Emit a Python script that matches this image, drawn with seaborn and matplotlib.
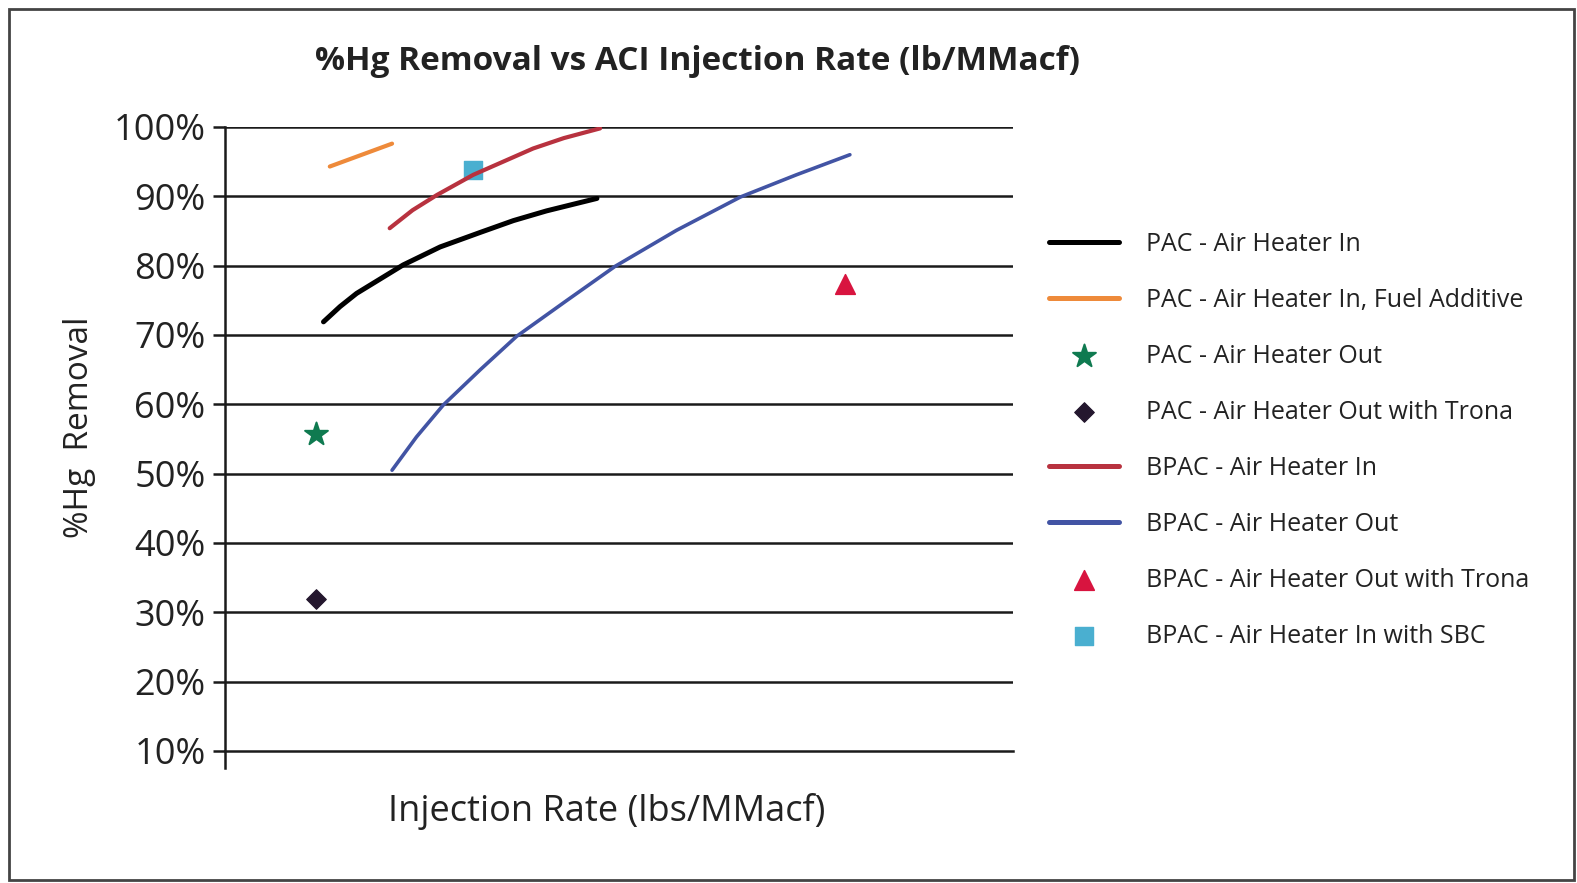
import matplotlib
matplotlib.use('Agg')
import matplotlib.pyplot as plt
import seaborn as sns
from matplotlib.patches import Rectangle
from matplotlib.ticker import FuncFormatter

# injection rate has no scale in the source, so x is in relative units (0-10)
pac_in_x = [1.25, 1.46, 1.67, 2.26, 2.73, 3.24, 3.66, 4.08, 4.72]
pac_in_y = [71.9, 74.1, 76.0, 80.1, 82.7, 84.8, 86.5, 87.9, 89.7]

pac_fuel_x = [1.33, 2.12]
pac_fuel_y = [94.3, 97.6]

bpac_in_x = [2.09, 2.38, 2.69, 3.15, 3.45, 3.91, 4.30, 4.76]
bpac_in_y = [85.4, 88.0, 90.2, 93.1, 94.6, 96.9, 98.4, 99.8]

bpac_out_x = [2.12, 2.43, 2.77, 3.24, 3.70, 4.34, 4.95, 5.73, 6.54, 7.25, 7.93]
bpac_out_y = [50.5, 55.3, 59.9, 65.0, 69.8, 75.0, 79.9, 85.1, 89.9, 93.1, 96.0]

pac_out_x, pac_out_y = [1.15], [55.7]
pac_trona_x, pac_trona_y = [1.15], [31.9]
bpac_trona_x, bpac_trona_y = [7.87], [77.3]
bpac_sbc_x, bpac_sbc_y = [3.15], [93.8]

sns.set_style('white')
plt.rcParams['font.family'] = ['Open Sans', 'DejaVu Sans']

fig = plt.figure(figsize=(15.77, 8.83), dpi=100)
ax = fig.add_axes([225 / 1577, 1 - 751 / 883, 788 / 1577, 624 / 883])

for v in range(20, 101, 10):
    ax.axhline(v, color='#1a1a1a', lw=1.8, zorder=1)

sns.lineplot(x=pac_in_x, y=pac_in_y, color='black', lw=3.6, sort=False,
             label='PAC - Air Heater In', ax=ax, zorder=3)
sns.lineplot(x=pac_fuel_x, y=pac_fuel_y, color='#EE8A3A', lw=3.0, sort=False,
             label='PAC - Air Heater In, Fuel Additive', ax=ax, zorder=3)
sns.scatterplot(x=pac_out_x, y=pac_out_y, color='#0F7A50', marker='*', s=300,
                edgecolor='#0F7A50', label='PAC - Air Heater Out', ax=ax, zorder=4)
sns.scatterplot(x=pac_trona_x, y=pac_trona_y, color='#24172E', marker='D', s=100,
                edgecolor='#24172E', label='PAC - Air Heater Out with Trona', ax=ax, zorder=4)
sns.lineplot(x=bpac_in_x, y=bpac_in_y, color='#B8323F', lw=3.0, sort=False,
             label='BPAC - Air Heater In', ax=ax, zorder=3)
sns.lineplot(x=bpac_out_x, y=bpac_out_y, color='#4254A4', lw=2.6, sort=False,
             label='BPAC - Air Heater Out', ax=ax, zorder=3)
sns.scatterplot(x=bpac_trona_x, y=bpac_trona_y, color='#D8143F', marker='^', s=200,
                edgecolor='#D8143F', label='BPAC - Air Heater Out with Trona', ax=ax, zorder=4)
sns.scatterplot(x=bpac_sbc_x, y=bpac_sbc_y, color='#4AAFD0', marker='s', s=160,
                edgecolor='#4AAFD0', label='BPAC - Air Heater In with SBC', ax=ax, zorder=2)

ax.set_xlim(0, 10)
ax.set_ylim(10, 100)
ax.set_yticks(range(10, 101, 10))
ax.yaxis.set_major_formatter(FuncFormatter(lambda v, p: f'{int(v)}%'))
ax.set_xticks([])
ax.tick_params(axis='y', direction='out', length=9, width=1.8, color='#1a1a1a',
               labelsize=26, labelcolor='#222222', pad=5, left=True)
for s in ['top', 'right']:
    ax.spines[s].set_visible(False)
ax.spines['left'].set_color('#1a1a1a')
ax.spines['left'].set_linewidth(1.8)
ax.spines['left'].set_bounds(7.5, 100)
ax.spines['bottom'].set_color('#1a1a1a')
ax.spines['bottom'].set_linewidth(1.8)

ax.set_xlabel('Injection Rate (lbs/MMacf)', fontsize=26, color='#222222')
ax.xaxis.set_label_coords(0.485, -0.068)
ax.set_ylabel('%Hg  Removal', fontsize=24, color='#222222')
ax.yaxis.set_label_coords(-0.164, 0.519)
fig.text(0.442, 0.93, '%Hg Removal vs ACI Injection Rate (lb/MMacf)', ha='center',
         va='center', fontsize=24, fontweight='bold', color='#222222')

leg = ax.legend(loc='upper left', bbox_to_anchor=(1049 / 1577, 1 - 232 / 883),
                bbox_transform=fig.transFigure, frameon=False, fontsize=18,
                labelspacing=1.24, handlelength=2.8, handletextpad=1.1,
                borderaxespad=0, borderpad=0, labelcolor='#222222')
for h in leg.get_lines():
    h.set_linewidth(3.6)

fig.add_artist(Rectangle((9 / 1577, 3 / 883), 1565 / 1577, 871 / 883,
                         transform=fig.transFigure, fill=False,
                         edgecolor='#444444', lw=2))

fig.savefig('out.png', dpi=100)
